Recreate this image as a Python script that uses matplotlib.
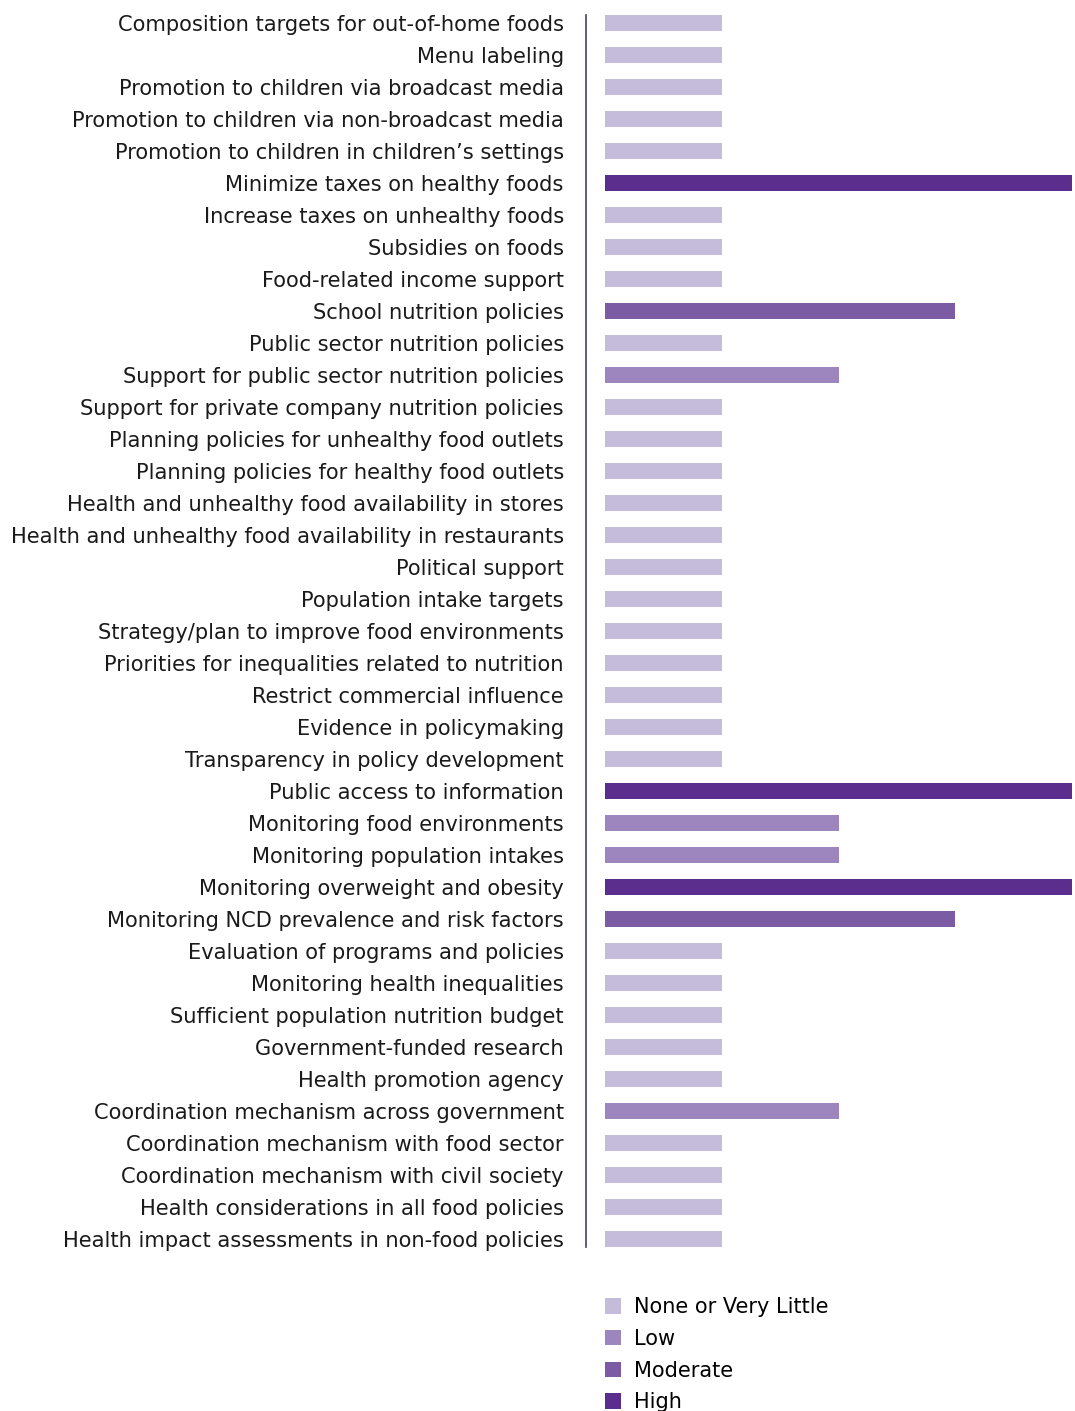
import matplotlib
matplotlib.use("Agg")
import matplotlib.pyplot as plt
from matplotlib.patches import Patch

plt.rcParams["font.family"] = ["DejaVu Sans"]

# indicator names, top to bottom
indicators = [
    "Composition targets for out-of-home foods",
    "Menu labeling",
    "Promotion to children via broadcast media",
    "Promotion to children via non-broadcast media",
    "Promotion to children in children\u2019s settings",
    "Minimize taxes on healthy foods",
    "Increase taxes on unhealthy foods",
    "Subsidies on foods",
    "Food-related income support",
    "School nutrition policies",
    "Public sector nutrition policies",
    "Support for public sector nutrition policies",
    "Support for private company nutrition policies",
    "Planning policies for unhealthy food outlets",
    "Planning policies for healthy food outlets",
    "Health and unhealthy food availability in stores",
    "Health and unhealthy food availability in restaurants",
    "Political support",
    "Population intake targets",
    "Strategy/plan to improve food environments",
    "Priorities for inequalities related to nutrition",
    "Restrict commercial influence",
    "Evidence in policymaking",
    "Transparency in policy development",
    "Public access to information",
    "Monitoring food environments",
    "Monitoring population intakes",
    "Monitoring overweight and obesity",
    "Monitoring NCD prevalence and risk factors",
    "Evaluation of programs and policies",
    "Monitoring health inequalities",
    "Sufficient population nutrition budget",
    "Government-funded research",
    "Health promotion agency",
    "Coordination mechanism across government",
    "Coordination mechanism with food sector",
    "Coordination mechanism with civil society",
    "Health considerations in all food policies",
    "Health impact assessments in non-food policies",
]

# implementation level: 1=None or Very Little, 2=Low, 3=Moderate, 4=High
levels = [1, 1, 1, 1, 1, 4, 1, 1, 1, 3,
          1, 2, 1, 1, 1, 1, 1, 1, 1, 1,
          1, 1, 1, 1, 4, 2, 2, 4, 3, 1,
          1, 1, 1, 1, 2, 1, 1, 1, 1]

level_names = ["None or Very Little", "Low", "Moderate", "High"]
level_colors = ["#c5bbdb", "#9d86be", "#7b5ba3", "#5b2d8c"]

W, H = 1075, 1411
fig = plt.figure(figsize=(W / 100, H / 100), dpi=100)
ax = fig.add_axes([586 / W, 1 - 1247 / H, (1072 - 586) / W, 1232 / H])

ypos = list(range(len(indicators)))
ax.barh(ypos, levels, height=0.5, left=0,
        color=[level_colors[v - 1] for v in levels])

ax.set_xlim(-19 / 116.75, 4)
ax.set_ylim(len(indicators) - 0.75, -0.25)
ax.set_yticks(ypos)
ax.set_yticklabels(indicators, fontsize=15.1, color="#1a1a1a")
ax.tick_params(axis="y", length=0, pad=16)
ax.set_xticks([])
for s in ["top", "right", "bottom"]:
    ax.spines[s].set_visible(False)
ax.spines["left"].set_color("#3b4668")
ax.spines["left"].set_linewidth(1.2)

handles = [Patch(facecolor=c, edgecolor="none", label=n) for c, n in zip(level_colors, level_names)]
fig.legend(handles=handles, loc="upper left", bbox_to_anchor=(605 / W, 1 - 1297 / H),
           frameon=False, fontsize=15, handlelength=0.77, handleheight=0.77,
           handletextpad=0.6, labelspacing=0.565, borderaxespad=0, borderpad=0)

fig.savefig("out.png", dpi=100)
